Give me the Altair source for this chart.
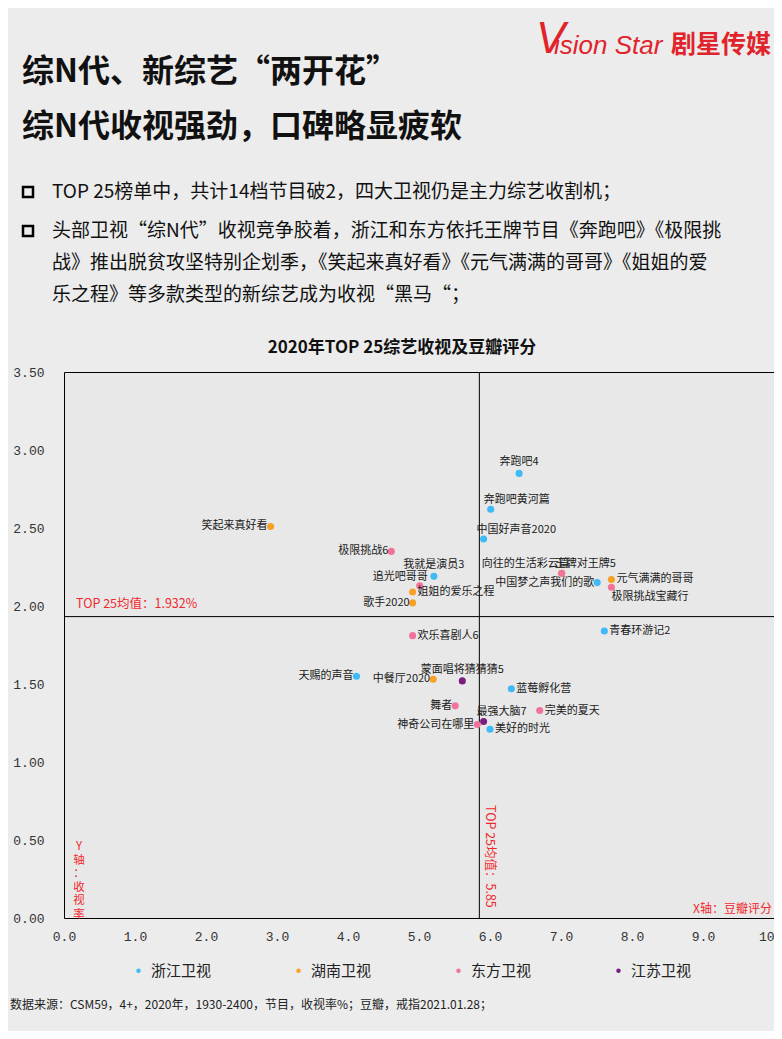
import altair as alt
import pandas as pd

# ---------------- data ----------------
names = ["奔跑吧4", "奔跑吧黄河篇", "中国好声音2020", "笑起来真好看", "极限挑战6",
         "我就是演员3", "追光吧哥哥", "姐姐的爱乐之程", "歌手2020", "向往的生活彩云篇",
         "王牌对王牌5", "中国梦之声我们的歌", "元气满满的哥哥", "极限挑战宝藏行", "青春环游记2",
         "欢乐喜剧人6", "天赐的声音", "中餐厅2020", "蒙面唱将猜猜猜5", "蓝莓孵化营",
         "舞者", "最强大脑7", "完美的夏天", "神奇公司在哪里", "美好的时光"]
douban = [6.41, 6.01, 5.91, 2.91, 4.61,
          5.21, 5.01, 4.91, 4.91, 7.01,
          7.01, 7.51, 7.71, 7.71, 7.61,
          4.91, 4.12, 5.20, 5.61, 6.30,
          5.51, 5.91, 6.70, 5.82, 6.00]
rating = [2.85, 2.62, 2.43, 2.51, 2.35,
          2.19, 2.13, 2.09, 2.02, 2.21,
          2.21, 2.15, 2.17, 2.12, 1.84,
          1.81, 1.55, 1.53, 1.52, 1.47,
          1.36, 1.26, 1.33, 1.24, 1.21]
channel = ["浙江卫视", "浙江卫视", "浙江卫视", "湖南卫视", "东方卫视",
           "浙江卫视", "东方卫视", "湖南卫视", "湖南卫视", "湖南卫视",
           "东方卫视", "浙江卫视", "湖南卫视", "东方卫视", "浙江卫视",
           "东方卫视", "浙江卫视", "湖南卫视", "江苏卫视", "浙江卫视",
           "东方卫视", "江苏卫视", "东方卫视", "东方卫视", "浙江卫视"]
label_side = ["t", "tr", "tr", "l", "l",
              "t", "tl", "r", "l", "tl",
              "tr", "l", "r", "br", "r",
              "r", "l", "l", "t", "r",
              "l", "tr", "r", "l", "r"]

channels = ["浙江卫视", "湖南卫视", "东方卫视", "江苏卫视"]
colors = ["#3ebaf6", "#f7a126", "#f2739a", "#7b1d80"]

mean_x = 5.85
mean_y = 1.932

x_ticks = [0, 1, 2, 3, 4, 5, 6, 7, 8, 9, 10]
y_ticks = [0, 0.5, 1.0, 1.5, 2.0, 2.5, 3.0, 3.5]

title1 = "综N代、新综艺“两开花”"
title2 = "综N代收视强劲，口碑略显疲软"
bullet_lines = [
    "TOP 25榜单中，共计14档节目破2，四大卫视仍是主力综艺收割机；",
    "头部卫视“综N代”收视竞争胶着，浙江和东方依托王牌节目《奔跑吧》《极限挑",
    "战》推出脱贫攻坚特别企划季，《笑起来真好看》《元气满满的哥哥》《姐姐的爱",
    "乐之程》等多款类型的新综艺成为收视“黑马“；",
]
chart_title = "2020年TOP 25综艺收视及豆瓣评分"
footer = "数据来源：CSM59，4+，2020年，1930-2400，节目，收视率%；豆瓣，戒指2021.01.28；"

# ---------------- chart ----------------
CJK = "Noto Sans CJK SC"
MONO = "Liberation Mono"
RED = "#f0282d"
LOGO_RED = "#e1232b"
W, H = 710, 546

df = pd.DataFrame({
    "name": names, "douban": douban, "rating": rating,
    "channel": channel, "side": label_side, "order": list(range(len(names))),
})
one = pd.DataFrame({"k": [0]})

xs = alt.Scale(domain=[0, 10], nice=False, zero=False)
ys = alt.Scale(domain=[0, 3.5], nice=False, zero=False)

base = alt.Chart(df)

points = base.mark_circle(size=50, opacity=1).encode(
    x=alt.X("douban:Q", scale=xs, title=None,
            axis=alt.Axis(values=x_ticks, format=".1f", labelFlush=False,
                          labelPadding=12)),
    y=alt.Y("rating:Q", scale=ys, title=None,
            axis=alt.Axis(values=y_ticks, format=".2f", labelFlush=False,
                          labelPadding=20, labelAlign="right")),
    color=alt.Color("channel:N",
                    scale=alt.Scale(domain=channels, range=colors),
                    legend=alt.Legend(orient="none", legendX=67, legendY=591,
                                      direction="horizontal", title=None,
                                      symbolType="circle", symbolSize=20,
                                      labelFont=CJK, labelFontSize=15,
                                      labelColor="#222222", labelOffset=5,
                                      columnPadding=79, padding=0)),
    order=alt.Order("order:Q"),
)

side_specs = {
    "t": dict(align="center", baseline="bottom", dx=0, dy=-6),
    "l": dict(align="right", baseline="middle", dx=-3, dy=0),
    "r": dict(align="left", baseline="middle", dx=5, dy=0),
    "tl": dict(align="right", baseline="bottom", dx=8, dy=-4),
    "tr": dict(align="left", baseline="bottom", dx=-7, dy=-4),
    "br": dict(align="left", baseline="top", dx=0, dy=4),
}
label_layers = [
    base.transform_filter(alt.datum.side == s).mark_text(
        font=CJK, fontSize=11, color="#1a1a1a", **spec
    ).encode(x=alt.X("douban:Q", scale=xs), y=alt.Y("rating:Q", scale=ys),
             text="name:N")
    for s, spec in side_specs.items()
]

vline = alt.Chart(pd.DataFrame({"v": [mean_x]})).mark_rule(
    color="black", strokeWidth=1).encode(x=alt.X("v:Q", scale=xs))
hline = alt.Chart(pd.DataFrame({"v": [mean_y]})).mark_rule(
    color="black", strokeWidth=1).encode(y=alt.Y("v:Q", scale=ys))


def txt(text, x, y, size, **kw):
    return alt.Chart(one).mark_text(text=text, fontSize=size, **kw).encode(
        x=alt.value(x), y=alt.value(y))


annos = [
    alt.Chart(one).mark_text(text="TOP 25均值：1.932%", font=CJK, fontSize=12.5,
                             color=RED, align="left", baseline="bottom", dy=-6
                             ).encode(x=alt.value(12), y=alt.datum(mean_y)),
    txt("TOP 25均值：5.85", 426, 433, 12.5, font=CJK, color=RED, angle=90,
        align="left", baseline="middle"),
    txt(["Y", "轴", "：", "收", "视", "率"], 15, 469, 11.5, font=CJK, color=RED,
        align="center", baseline="top", lineHeight=13.5),
    txt("X轴：豆瓣评分", 708, 537, 12, font=CJK, color=RED, align="right",
        baseline="middle"),
    txt(chart_title, 338, -24, 17, font=CJK, fontWeight="bold", color="#111111",
        align="center", baseline="middle"),
    txt(title1, -42, -300, 32, font=CJK, fontWeight="bold", color="#111111",
        align="left", baseline="middle"),
    txt(title2, -42, -245, 32, font=CJK, fontWeight="bold", color="#111111",
        align="left", baseline="middle"),
    txt("V", 472, -332, 44, font="Liberation Sans", fontStyle="italic",
        color=LOGO_RED, align="left", baseline="middle"),
    txt("ision Star", 490, -326, 26, font="Liberation Sans", fontStyle="italic",
        color=LOGO_RED, align="left", baseline="middle"),
    txt("剧星传媒", 607, -327, 25, font=CJK, fontWeight="bold", color=LOGO_RED,
        align="left", baseline="middle"),
    txt(footer, -54, 633, 12, font=CJK, color="#222222", align="left",
        baseline="middle"),
]
for line, yy in zip(bullet_lines, [-180, -141, -109, -77]):
    annos.append(txt(line, -12, yy, 19, font=CJK, color="#111111",
                     align="left", baseline="middle"))

bullets = [
    alt.Chart(one).mark_point(
        shape="square", filled=False, stroke="black", strokeWidth=2.5, size=100,
        opacity=1,
    ).encode(x=alt.value(-36), y=alt.value(yy))
    for yy in [-180, -141]
]

chart = alt.layer(
    vline, hline, points, *label_layers, *annos, *bullets
).properties(
    width=W, height=H,
    autosize=alt.AutoSizeParams(type="none"),
    padding={"left": 56, "top": 364, "right": 0, "bottom": 113},
    background="#ececec",
).configure_view(
    stroke="black", strokeWidth=1, fill="#e8e8e8",
).configure_axis(
    domain=False, grid=False, ticks=False, tickSize=0,
    labelFont=MONO, labelFontSize=13, labelColor="#333333",
)

chart.save("out.html", embed_options={"renderer": "svg", "actions": False})
